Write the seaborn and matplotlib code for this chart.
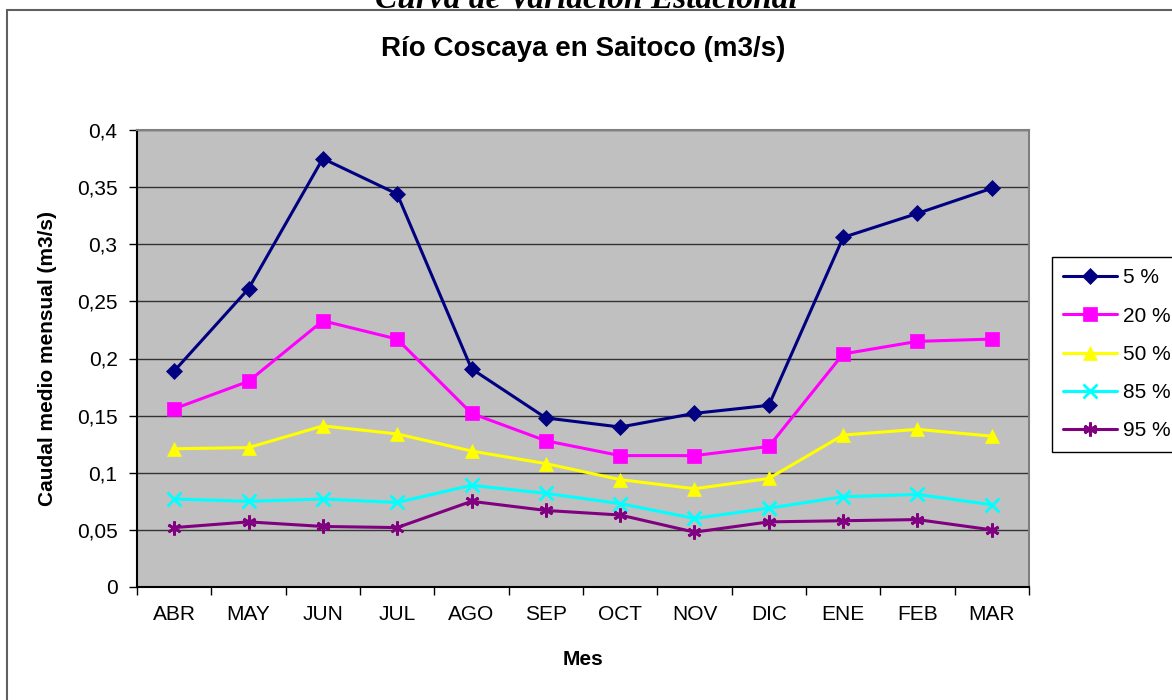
import numpy as np
import pandas as pd
import matplotlib
matplotlib.use('Agg')
import matplotlib.pyplot as plt
import matplotlib.ticker as mtick
from matplotlib.patches import Rectangle
import seaborn as sns

# data
meses = ['ABR', 'MAY', 'JUN', 'JUL', 'AGO', 'SEP', 'OCT', 'NOV', 'DIC', 'ENE', 'FEB', 'MAR']
q05 = [0.189, 0.261, 0.375, 0.344, 0.191, 0.148, 0.140, 0.152, 0.159, 0.306, 0.327, 0.349]
q20 = [0.156, 0.180, 0.233, 0.217, 0.152, 0.128, 0.115, 0.115, 0.123, 0.204, 0.215, 0.217]
q50 = [0.121, 0.122, 0.141, 0.134, 0.119, 0.108, 0.094, 0.086, 0.095, 0.133, 0.138, 0.132]
q85 = [0.077, 0.075, 0.077, 0.074, 0.089, 0.082, 0.073, 0.060, 0.069, 0.079, 0.081, 0.072]
q95 = [0.052, 0.057, 0.053, 0.052, 0.075, 0.067, 0.063, 0.048, 0.057, 0.058, 0.059, 0.050]
series = ['5 %', '20 %', '50 %', '85 %', '95 %']

df = pd.DataFrame({'Mes': meses * 5,
                   'caudal': q05 + q20 + q50 + q85 + q95,
                   'serie': np.repeat(series, len(meses))})

colores = ['#000080', '#FF00FF', '#FFFF00', '#00FFFF', '#800080']
marcadores = ['D', 's', '^', 'x', (6, 2, 0)]
tam = [8, 9.5, 10, 10, 10]

sns.set_style('ticks')
plt.rcParams['font.family'] = ['Liberation Sans', 'DejaVu Sans']
plt.rcParams['text.color'] = 'black'
plt.rcParams['axes.labelcolor'] = 'black'
plt.rcParams['xtick.color'] = 'black'
plt.rcParams['ytick.color'] = 'black'

fig = plt.figure(figsize=(11.72, 7.0), dpi=100)
ax = fig.add_axes([137/1172, 113/700, (1029-137)/1172, (587-130)/700])
ax.set_facecolor('#C0C0C0')

for s, c, m, ms in zip(series, colores, marcadores, tam):
    d = df[df['serie'] == s]
    sns.lineplot(data=d, x='Mes', y='caudal', color=c, marker=m, markersize=ms,
                 markeredgecolor=c, markerfacecolor=c, markeredgewidth=2 if m in ['x', (6, 2, 0)] else 0.5,
                 linewidth=2.2, sort=False, label=s, ax=ax)

ax.set_xlim(-0.5, 11.5)
ax.set_ylim(0, 0.4)
ax.set_yticks(np.arange(0, 0.401, 0.05))
ax.yaxis.set_major_formatter(mtick.FuncFormatter(lambda v, p: ('%g' % round(v, 2)).replace('.', ',')))
ax.grid(axis='y', color='#333333', linewidth=1)
ax.set_axisbelow(True)

ax.set_xticks(range(len(meses)))
ax.set_xticklabels(meses)
ax.set_xticks(np.arange(-0.5, 11.6, 1), minor=True)
ax.tick_params(axis='x', which='major', length=0, pad=13, labelsize=15)
ax.tick_params(axis='x', which='minor', length=6, width=1, direction='out', color='black')
ax.tick_params(axis='y', length=6, width=1, direction='out', pad=8, labelsize=15, color='black')

for sp in ['top', 'right']:
    ax.spines[sp].set_visible(True)
    ax.spines[sp].set_color('#808080')
    ax.spines[sp].set_linewidth(1.5)
for sp in ['left', 'bottom']:
    ax.spines[sp].set_color('black')
    ax.spines[sp].set_linewidth(1.5)

ax.set_xlabel('Mes', fontsize=15, fontweight='bold', labelpad=19)
ax.set_ylabel('Caudal medio mensual (m3/s)', fontsize=15, fontweight='bold', labelpad=14)
ax.set_title('Río Coscaya en Saitoco (m3/s)', fontsize=20, fontweight='bold', pad=53)

leg = ax.legend(loc='upper left', bbox_to_anchor=(1052/1172, 1 - 257/700), bbox_transform=fig.transFigure,
                fontsize=15, frameon=True, fancybox=False, edgecolor='black', framealpha=1,
                handlelength=2.55, handletextpad=0.3, labelspacing=0.92, borderpad=0.55, borderaxespad=0)
leg.get_frame().set_linewidth(1)

# outer chart frame and clipped heading
fig.patches.append(Rectangle((7/1172, -0.02), 1.05, 1 - 10/700 + 0.02, transform=fig.transFigure,
                             fill=False, edgecolor='#606060', linewidth=1.5))
fig.text(0.5, 1 - 8/700, 'Curva de Variación Estacional', ha='center', va='baseline',
         fontsize=24, fontweight='bold', fontstyle='italic', family=['Liberation Serif', 'DejaVu Serif'])

fig.savefig('out.png', dpi=100)
